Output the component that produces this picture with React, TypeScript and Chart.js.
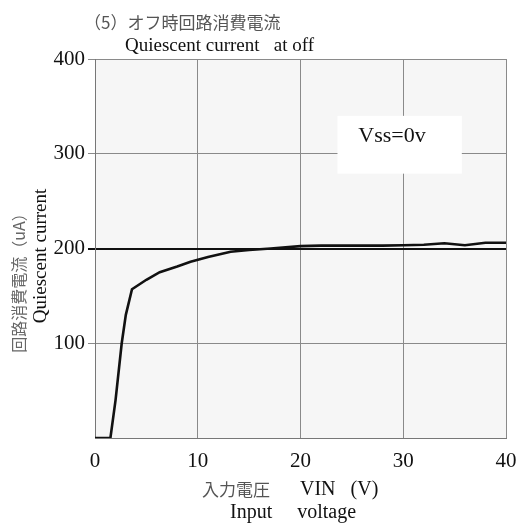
import React, { useEffect, useRef } from 'react';
import { Chart, registerables } from 'chart.js';

Chart.register(...registerables);

// ---- data ----
const vin = [0, 1.5, 2.0, 2.6, 3.0, 3.6, 5.0, 6.3, 8.0, 9.3, 11.0, 13.2, 15.0, 17.1, 20.0, 22.0, 25.0, 28.0, 30.0, 32.0, 34.0, 36.0, 38.0, 40.0];
const current = [0, 0, 40, 100, 130, 157, 167, 175, 181, 186, 191, 196.5, 198.5, 200, 202.5, 203, 203, 203, 203.5, 204, 205.5, 203.5, 206, 206];
const xTickValues = [0, 10, 20, 30, 40];
const yTickValues = [100, 200, 300, 400];
const refLevel = 200;
const noteAt = [28.9, 318];
const noteBox = [23.6, 35.7, 340, 279];

const titleJa = '（5）オフ時回路消費電流';
const titleEn = 'Quiescent current   at off';
const xTitleJa = '入力電圧';
const xTitleEn = 'VIN   (V)';
const xTitle2 = 'Input     voltage';
const yTitleJa = '回路消費電流（uA）';
const yTitleEn = 'Quiescent current';
const note = 'Vss=0v';

const SERIF = '"Liberation Serif", "DejaVu Serif", serif';
const CJK = '"Noto Sans CJK JP", sans-serif';

const textPlugin = {
  id: 'texts',
  beforeDraw(chart: any) {
    const { ctx, chartArea: a } = chart;
    ctx.save();
    ctx.fillStyle = '#f6f6f6';
    ctx.fillRect(a.left, a.top, a.right - a.left, a.bottom - a.top);
    ctx.restore();
  },
  beforeDatasetsDraw(chart: any) {
    const { ctx } = chart;
    const xs = chart.scales.x, ys = chart.scales.y;
    const x0 = xs.getPixelForValue(noteBox[0]);
    const x1 = xs.getPixelForValue(noteBox[1]);
    const y0 = ys.getPixelForValue(noteBox[2]);
    const y1 = ys.getPixelForValue(noteBox[3]);
    ctx.save();
    ctx.fillStyle = '#ffffff';
    ctx.fillRect(x0, y0, x1 - x0, y1 - y0);
    ctx.fillStyle = '#111';
    ctx.font = `22px ${SERIF}`;
    ctx.textAlign = 'center';
    ctx.textBaseline = 'middle';
    ctx.fillText(note, xs.getPixelForValue(noteAt[0]), ys.getPixelForValue(noteAt[1]));
    ctx.restore();
  },
  afterDraw(chart: any) {
    const { ctx } = chart;
    ctx.save();
    ctx.textBaseline = 'middle';
    ctx.textAlign = 'left';
    // title
    ctx.fillStyle = '#555';
    ctx.font = `17px ${CJK}`;
    ctx.fillText(titleJa, 84, 23);
    ctx.fillStyle = '#111';
    ctx.font = `19px ${SERIF}`;
    ctx.fillText(titleEn, 125, 46);
    // x title
    ctx.fillStyle = '#555';
    ctx.font = `17px ${CJK}`;
    ctx.fillText(xTitleJa, 202, 490);
    ctx.fillStyle = '#111';
    ctx.font = `20px ${SERIF}`;
    ctx.fillText(xTitleEn, 300, 490);
    ctx.fillText(xTitle2, 230, 513);
    // y title
    ctx.save();
    ctx.translate(19, 279);
    ctx.rotate(-Math.PI / 2);
    ctx.textAlign = 'center';
    ctx.fillStyle = '#666';
    ctx.font = `16px ${CJK}`;
    ctx.fillText(yTitleJa, 0, 0);
    ctx.restore();
    ctx.save();
    ctx.translate(41, 256);
    ctx.rotate(-Math.PI / 2);
    ctx.textAlign = 'center';
    ctx.fillStyle = '#111';
    ctx.font = `19px ${SERIF}`;
    ctx.fillText(yTitleEn, 0, 0);
    ctx.restore();
    ctx.restore();
  },
};

export default function App() {
  const ref = useRef<HTMLCanvasElement>(null);
  useEffect(() => {
    if (!ref.current) return;
    const chart = new Chart(ref.current, {
      type: 'line',
      data: {
        datasets: [
          {
            label: 'Quiescent current',
            data: vin.map((v, i) => ({ x: v, y: current[i] })),
            borderColor: '#111',
            borderWidth: 2.6,
            pointRadius: 0,
            tension: 0,
            fill: false,
          },
        ],
      },
      options: {
        animation: false,
        responsive: false,
        devicePixelRatio: 1,
        events: [],
        layout: { padding: { left: 0, right: 14, top: 59, bottom: 0 } },
        plugins: { legend: { display: false }, tooltip: { enabled: false }, title: { display: false } },
        scales: {
          x: {
            type: 'linear',
            min: 0,
            max: 40,
            afterFit: (s: any) => { s.height = 87; s.paddingLeft = 0; s.paddingRight = 0; },
            afterBuildTicks: (s: any) => { s.ticks = xTickValues.map((v) => ({ value: v })); },
            border: { color: '#777', width: 1 },
            grid: { color: '#8a8a8a', lineWidth: 1, drawTicks: false },
            ticks: {
              padding: 11,
              color: '#111',
              font: { family: SERIF, size: 21 },
              maxRotation: 0,
            },
          },
          y: {
            type: 'linear',
            min: 0,
            max: 400,
            afterFit: (s: any) => { s.width = 95; s.paddingTop = 0; s.paddingBottom = 0; },
            afterBuildTicks: (s: any) => { s.ticks = [0, ...yTickValues].map((v) => ({ value: v })); },
            border: { color: '#777', width: 1 },
            grid: {
              color: (c: any) => (c.tick && c.tick.value === refLevel ? '#111' : '#8a8a8a'),
              lineWidth: (c: any) => (c.tick && c.tick.value === refLevel ? 2 : 1),
              tickColor: (c: any) => (c.tick && c.tick.value === 0 ? 'rgba(0,0,0,0)' : c.tick && c.tick.value === refLevel ? '#111' : '#8a8a8a'),
              tickLength: 7,
            },
            ticks: {
              padding: 3,
              color: '#111',
              font: { family: SERIF, size: 21 },
              callback: (v: any) => (v === 0 ? '' : String(v)),
            },
          },
        },
      },
      plugins: [textPlugin],
    } as any);
    return () => chart.destroy();
  }, []);
  return (
    <div style={{ position: 'fixed', left: 0, top: 0, width: 520, height: 525, background: '#fff' }}>
      <canvas ref={ref} width={520} height={525} style={{ display: 'block' }} />
    </div>
  );
}
